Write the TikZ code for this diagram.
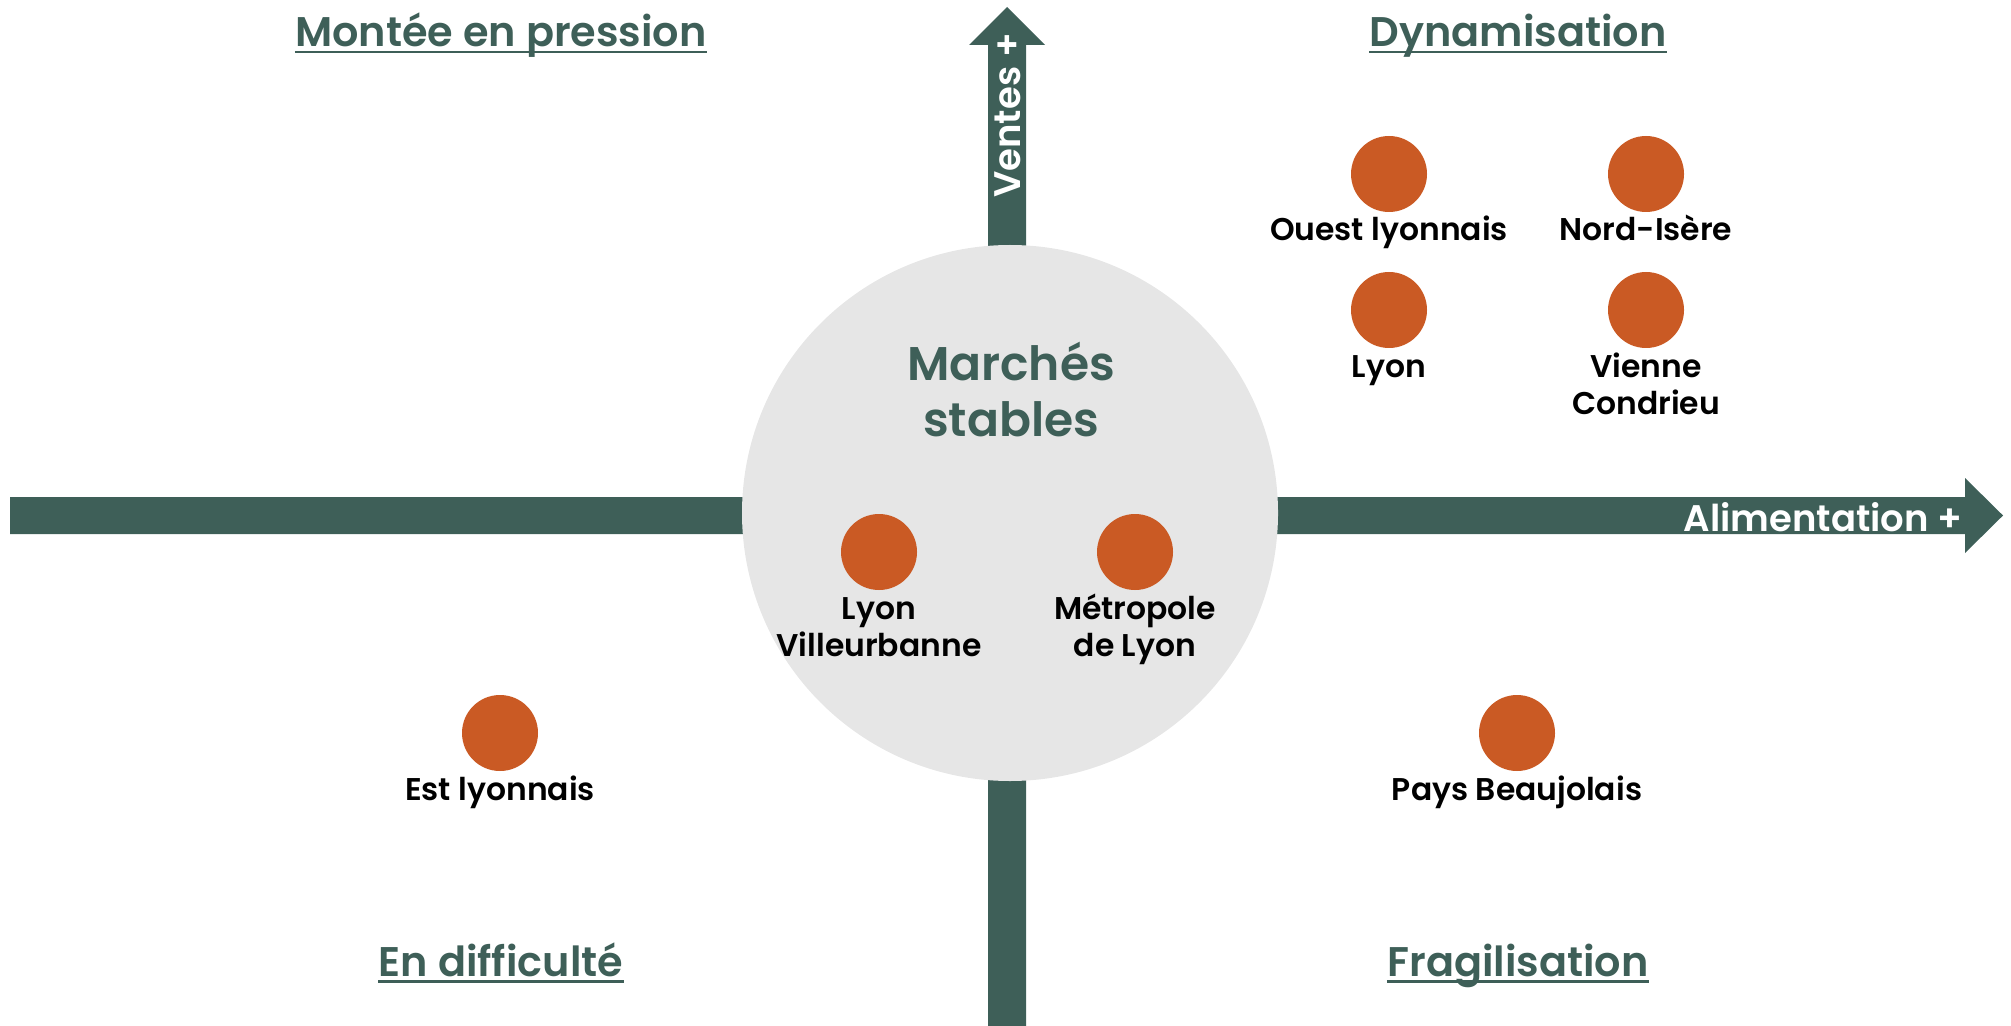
\documentclass[tikz,border=0pt]{standalone}
\usepackage{fontspec}
\setmainfont{Poppins}[BoldFont={* SemiBold}]
\definecolor{axisgreen}{HTML}{3E5F58}
\definecolor{dotorange}{HTML}{CA5A24}
\definecolor{zonegray}{HTML}{E6E6E6}
\begin{document}
\begin{tikzpicture}[x=0.5pt,y=-0.5pt,
    dot/.style={circle,fill=dotorange,inner sep=0pt,minimum size=38pt},
    lbl/.style={anchor=base,inner sep=0pt,align=center,font=\bfseries\fontsize{15.7}{18.5}\selectfont},
    quad/.style={anchor=base,inner sep=0pt,text=axisgreen,font=\bfseries\fontsize{20.7}{25}\selectfont},
    uline/.style={axisgreen,line width=1.3pt},
    axislbl/.style={inner sep=0pt,text=white,font=\bfseries\fontsize{18.5}{24}\selectfont}]
    \useasboundingbox (0,0) rectangle (2011,1026);
    \fill[axisgreen] (10,497) -- (1965,497) -- (1965,478) -- (2003,515.5) -- (1965,553) -- (1965,534) -- (10,534) -- cycle;
    \fill[axisgreen] (988,1026) -- (988,45) -- (969,45) -- (1007,7) -- (1045,45) -- (1026,45) -- (1026,1026) -- cycle;
    \node (alim) [axislbl,anchor=base east] at (1963,531) {Alimentation +};
    \node (ventes) [axislbl,anchor=base west,rotate=90] at (1020,198) {Ventes +};
    \fill[zonegray] (1010,513) circle [radius=268];
    \node (stable) [quad,align=center,font=\bfseries\fontsize{23.6}{28}\selectfont] at (1011,436) {Marchés\\stables};
    \node (q1) [quad] at (501,47) {Montée en pression};
    \node (q2) [quad] at (1518,47) {Dynamisation};
    \node (q3) [quad] at (501,976) {En difficulté};
    \node (q4) [quad] at (1518,976) {Fragilisation};
    \foreach \q in {q1,q2,q3,q4}
      \draw[uline] ([yshift=-2.6pt]\q.base west) -- ([yshift=-2.6pt]\q.base east);
    \node (ouest) [dot] at (1389,174) {};
    \node (ouest-t) [lbl] at (1389,241) {Ouest lyonnais};
    \node (nord) [dot] at (1646,174) {};
    \node (nord-t) [lbl] at (1646,241) {Nord-Isère};
    \node (lyon) [dot] at (1389,310) {};
    \node (lyon-t) [lbl] at (1389,378) {Lyon};
    \node (vienne) [dot] at (1646,310) {};
    \node (vienne-t) [lbl] at (1646,415) {Vienne\\Condrieu};
    \node (villeur) [dot] at (879,552) {};
    \node (villeur-t) [lbl] at (879,656) {Lyon\\Villeurbanne};
    \node (metro) [dot] at (1135,552) {};
    \node (metro-t) [lbl] at (1135,656) {Métropole\\de Lyon};
    \node (est) [dot] at (500,733) {};
    \node (est-t) [lbl] at (500,800) {Est lyonnais};
    \node (beau) [dot] at (1517,733) {};
    \node (beau-t) [lbl] at (1517,800) {Pays Beaujolais};
\end{tikzpicture}
\end{document}
